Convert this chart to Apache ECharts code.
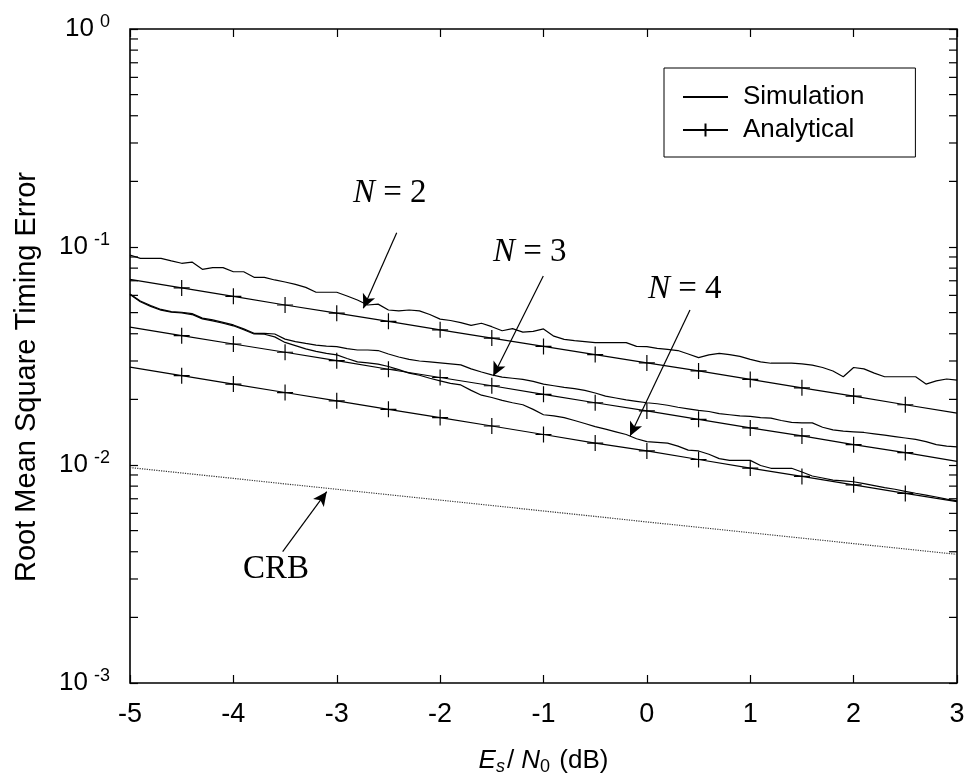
<!DOCTYPE html>
<html><head><meta charset="utf-8">
<script src="https://cdn.jsdelivr.net/npm/echarts@6/dist/echarts.min.js"></script>
<style>html,body{margin:0;padding:0;background:#fff}#c{width:971px;height:782px}</style>
</head><body><div id="c"></div>
<script>
// ---- data ----
const xSim = [-5.0,-4.9,-4.8,-4.7,-4.6,-4.5,-4.4,-4.3,-4.2,-4.1,-4.0,-3.9,-3.8,-3.7,-3.6,-3.5,-3.4,-3.3,-3.2,-3.1,
  -3.0,-2.9,-2.8,-2.7,-2.6,-2.5,-2.4,-2.3,-2.2,-2.1,-2.0,-1.9,-1.8,-1.7,-1.6,-1.5,-1.4,-1.3,-1.2,-1.1,
  -1.0,-0.9,-0.8,-0.7,-0.6,-0.5,-0.4,-0.3,-0.2,-0.1,0.0,0.1,0.2,0.3,0.4,0.5,0.6,0.7,0.8,0.9,
  1.0,1.1,1.2,1.3,1.4,1.5,1.6,1.7,1.8,1.9,2.0,2.1,2.2,2.3,2.4,2.5,2.6,2.7,2.8,2.9,3.0];
const simN2 = [0.0919,0.0887,0.0887,0.0887,0.0864,0.0842,0.0853,0.0790,0.0804,0.0804,0.0770,0.0770,0.0726,0.0726,0.0706,0.0691,0.0674,0.0653,0.0620,0.0620,
  0.0620,0.0596,0.0571,0.0542,0.0547,0.0514,0.0509,0.0514,0.0509,0.0490,0.0467,0.0460,0.0450,0.0437,0.0447,0.0431,0.0413,0.0422,0.0407,0.0410,
  0.0421,0.0390,0.0377,0.0372,0.0368,0.0364,0.0364,0.0364,0.0364,0.0350,0.0349,0.0343,0.0339,0.0335,0.0323,0.0311,0.0320,0.0325,0.0321,0.0315,
  0.0305,0.0297,0.0293,0.0293,0.0293,0.0291,0.0287,0.0280,0.0270,0.0254,0.0280,0.0276,0.0264,0.0254,0.0254,0.0254,0.0254,0.0235,0.0243,0.0248,0.0245];
const simN3 = [0.0609,0.0565,0.0539,0.0517,0.0505,0.0502,0.0495,0.0472,0.0463,0.0451,0.0439,0.0421,0.0402,0.0402,0.0399,0.0378,0.0368,0.0361,0.0355,0.0351,
  0.0349,0.0342,0.0337,0.0337,0.0335,0.0323,0.0313,0.0305,0.0300,0.0297,0.0294,0.0291,0.0288,0.0276,0.0267,0.0259,0.0253,0.0250,0.0247,0.0242,
  0.0235,0.0231,0.0227,0.0224,0.0220,0.0214,0.0207,0.0203,0.0199,0.0196,0.0193,0.0191,0.0188,0.0184,0.0181,0.0178,0.0176,0.0172,0.0170,0.0168,
  0.0167,0.0165,0.0164,0.0160,0.0157,0.0156,0.0156,0.0149,0.0145,0.0143,0.0142,0.0141,0.0139,0.0137,0.0135,0.0133,0.0131,0.0128,0.0124,0.0122,0.0121];
const simN4 = [0.0605,0.0561,0.0534,0.0513,0.0502,0.0499,0.0490,0.0468,0.0458,0.0447,0.0435,0.0417,0.0399,0.0398,0.0387,0.0365,0.0353,0.0341,0.0332,0.0325,
  0.0320,0.0308,0.0297,0.0294,0.0290,0.0283,0.0274,0.0264,0.0258,0.0250,0.0243,0.0237,0.0233,0.0220,0.0209,0.0204,0.0198,0.0193,0.0189,0.0180,
  0.0170,0.0168,0.0165,0.0160,0.0155,0.0150,0.0146,0.0142,0.0138,0.0132,0.0128,0.0127,0.0126,0.0122,0.0117,0.0116,0.0112,0.0107,0.0105,0.0105,
  0.0105,0.00995,0.00966,0.00966,0.00966,0.00929,0.00890,0.00872,0.00853,0.00846,0.00838,0.00822,0.00805,0.00788,0.00774,0.00757,0.00742,0.00728,0.00713,0.00698,0.00684];
const xAna = [-5,-4.5,-4,-3.5,-3,-2.5,-2,-1.5,-1,-0.5,0,0.5,1,1.5,2,2.5,3];
const anaN2 = [0.0711,0.0649,0.0594,0.0542,0.0497,0.0456,0.0417,0.0382,0.0350,0.0321,0.0294,0.0270,0.0247,0.0226,0.0207,0.0189,0.0173];
const anaN3 = [0.0429,0.0392,0.0359,0.0329,0.0301,0.0275,0.0252,0.0231,0.0211,0.0193,0.0177,0.0162,0.0148,0.0136,0.0124,0.0114,0.0104];
const anaN4 = [0.0281,0.0257,0.0235,0.0215,0.0197,0.0180,0.0165,0.0151,0.0138,0.0126,0.0116,0.0106,0.00968,0.00886,0.00811,0.00741,0.00679];
const crb   = [0.00973,0.00919,0.00868,0.00819,0.00774,0.00731,0.00690,0.00652,0.00615,0.00581,0.00548,0.00518,0.00489,0.00462,0.00436,0.00412,0.00389];
const minorTickValues = [0.002,0.003,0.004,0.005,0.006,0.007,0.008,0.009,
  0.02,0.03,0.04,0.05,0.06,0.07,0.08,0.09,0.2,0.3,0.4,0.5,0.6,0.7,0.8,0.9];
const legendNames = ['Simulation','Analytical'];
// annotations: [label, fromX, fromY, toX, toY]
const annotations = [
  ['2', -2.420, 0.1163, -2.743, 0.05234],
  ['3', -1.002, 0.07362, -1.486, 0.02560],
  ['4', 0.417, 0.0514, -0.163, 0.01358],
  ['CRB', -3.523, 0.004002, -3.097, 0.007542]
];

const chart = echarts.init(document.getElementById('c'), null, {renderer:'canvas'});
const pairs = (xs, ys) => xs.map((x,i)=>[x, ys[i]]);
const anaData = ys => xAna.map((x,i)=> (i===0||i===xAna.length-1) ? {value:[x,ys[i]], symbol:'none'} : [x,ys[i]]);
const SANS = 'Liberation Sans, Arial, sans-serif';
const SERIF = 'Liberation Serif, Times New Roman, serif';
const plusPath = 'path://M8,0L8,16M0,8L16,8';

const simSeries = [simN2, simN3, simN4].map(d => ({
  name:'Simulation', type:'line', data:pairs(xSim,d), showSymbol:false, symbol:'none',
  lineStyle:{color:'#000', width:1.2}, itemStyle:{color:'#000'}, silent:true, z:3
}));
const anaSeries = [anaN2, anaN3, anaN4].map(d => ({
  name:'Analytical', type:'line', data:anaData(d), symbol:plusPath, symbolSize:16, showSymbol:true,
  lineStyle:{color:'#000', width:1.2}, itemStyle:{color:'rgba(0,0,0,0)', borderColor:'#000', borderWidth:1.2}, silent:true, z:3
}));
const arrowSeries = {
  type:'line', data:[], silent:true,
  markLine:{ silent:true, symbol:['none','arrow'], symbolSize:[10,14], label:{show:false},
    lineStyle:{color:'#000', width:1.2, type:'solid'},
    data: annotations.map(a => [{coord:[a[1],a[2]]},{coord:[a[3],a[4]]}]) }
};
const minorTicks = {
  type:'custom', silent:true, z:5, clip:false,
  data: minorTickValues.map(v => [-5, v]),
  renderItem: (params, api) => {
    const v = api.value(1);
    const pl = api.coord([-5, v]);
    const pr = api.coord([3, v]);
    return {type:'group', children:[
      {type:'line', shape:{x1:pl[0], y1:pl[1], x2:pl[0]+8, y2:pl[1]}, style:{stroke:'#000', lineWidth:1.2}},
      {type:'line', shape:{x1:pr[0], y1:pr[1], x2:pr[0]-8, y2:pr[1]}, style:{stroke:'#000', lineWidth:1.2}}
    ]};
  }
};
const tickStyle = {show:true, inside:true, length:8, lineStyle:{color:'#000', width:1.2}};
const nText = n => ({rich:{i:{fontFamily:SERIF, fontStyle:'italic', fontSize:33, fill:'#000'}, t:{fontFamily:SERIF, fontSize:33, fill:'#000'}}, text:'{i|N}{t| = ' + n + '}'});

const option = {
  animation:false,
  backgroundColor:'#fff',
  grid:{left:130, right:14, top:29, bottom:99, show:true, borderColor:'#000', borderWidth:1.6, backgroundColor:'transparent'},
  legend:{
    data:[{name:legendNames[0], itemStyle:{opacity:0}}, {name:legendNames[1]}], orient:'vertical', left:664, top:68,
    borderColor:'#000', borderWidth:1, padding:[16,51,14,18], itemGap:7,
    itemWidth:45, itemHeight:16, selectedMode:false,
    textStyle:{fontFamily:SANS, fontSize:26, color:'#000', padding:[0,0,0,10]}
  },
  xAxis:[
    {type:'value', min:-5, max:3, interval:1, position:'bottom',
     axisLine:{show:false, onZero:false}, splitLine:{show:false}, axisTick:tickStyle,
     axisLabel:{color:'#000', fontFamily:SANS, fontSize:27, margin:18},
     name:'{i|E}{sub|s}{t|/ }{i|N}{sub0|0}{t| (dB)}', nameLocation:'middle', nameGap:63,
     nameTextStyle:{rich:{
       i:{fontFamily:SANS, fontStyle:'italic', fontSize:26, color:'#000'},
       t:{fontFamily:SANS, fontSize:26, color:'#000'},
       sub:{fontFamily:SANS, fontStyle:'italic', fontSize:18, color:'#000', padding:[12,2,0,0]},
       sub0:{fontFamily:SANS, fontSize:18, color:'#000', padding:[12,2,0,0]}
     }}},
    {type:'value', min:-5, max:3, interval:1, position:'top',
     axisLine:{show:false, onZero:false}, splitLine:{show:false}, axisLabel:{show:false}, axisTick:tickStyle}
  ],
  yAxis:[
    {type:'log', logBase:10, min:0.001, max:1, position:'left',
     axisLine:{show:false, onZero:false}, splitLine:{show:false}, axisTick:tickStyle,
     axisLabel:{margin:20, formatter: v => '{b|10}{e|' + Math.round(Math.log10(v)) + '}',
       rich:{ b:{fontFamily:SANS, fontSize:26, color:'#000'},
              e:{fontFamily:SANS, fontSize:18, color:'#000', padding:[0,0,14,6]} }}},
    {type:'log', logBase:10, min:0.001, max:1, position:'right',
     axisLine:{show:false, onZero:false}, splitLine:{show:false}, axisLabel:{show:false}, axisTick:tickStyle}
  ],
  graphic:[
    {type:'text', x:27, y:377, rotation:Math.PI/2,
     style:{text:'Root Mean Square Timing Error', fontFamily:SANS, fontSize:29, fill:'#000', align:'center', verticalAlign:'middle'}},
    {type:'text', left:353, top:177, style:nText(2)},
    {type:'text', left:493, top:236, style:nText(3)},
    {type:'text', left:648, top:273, style:nText(4)},
    {type:'text', left:243, top:553, style:{text:'CRB', fontFamily:SERIF, fontSize:33, fill:'#000'}}
  ],
  series:[
    ...simSeries, ...anaSeries,
    {name:'CRB', type:'line', data:pairs(xAna,crb), symbol:'none', silent:true,
     lineStyle:{color:'#333', width:1.2, type:'dotted'}},
    arrowSeries, minorTicks
  ]
};
chart.setOption(option);
</script></body></html>
